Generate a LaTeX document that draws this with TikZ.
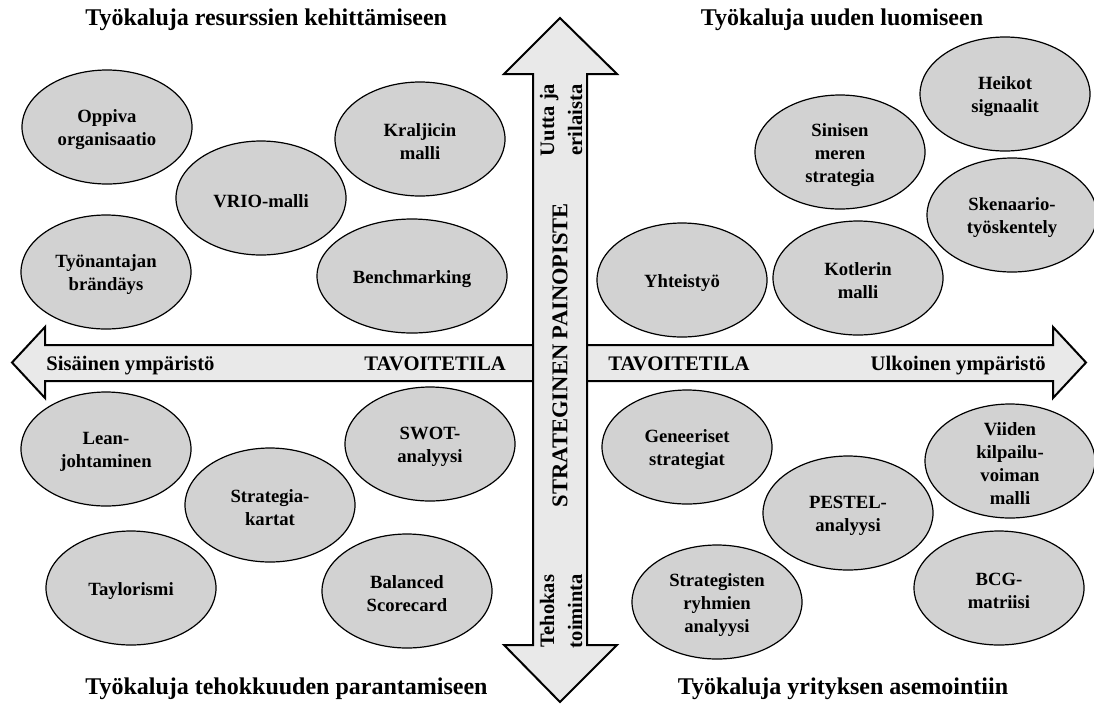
\documentclass[tikz,border=0pt]{standalone}
\usepackage{fontspec}
\setmainfont{Liberation Serif}
\usetikzlibrary{shapes.geometric}
\definecolor{blobfill}{RGB}{210,210,210}
\definecolor{arrowfill}{RGB}{233,233,233}
\begin{document}
\begin{tikzpicture}[x=0.75pt,y=-0.75pt,
  blob/.style={ellipse, draw=black, line width=0.9pt, fill=blobfill,
    minimum width=127.5pt, minimum height=85.5pt, inner sep=0pt},
  wideblob/.style={blob, minimum width=142.5pt},
  txt/.style={font=\fontsize{14}{17.2}\selectfont\bfseries, align=center, inner sep=0pt, yshift=-2.2pt},
  bigarrow/.style={draw=black, line width=1.5pt, fill=arrowfill, line join=miter},
  axistxt/.style={font=\fontsize{15.5}{18}\selectfont\bfseries, inner sep=0pt},
  sidetxt/.style={font=\fontsize{15.4}{21}\selectfont\bfseries, align=center, inner sep=0pt, rotate=90},
  maintxt/.style={font=\fontsize{16.9}{20}\selectfont\bfseries, inner sep=0pt, rotate=90},
  title/.style={font=\fontsize{18}{22}\selectfont\bfseries, inner sep=0pt}
]
\useasboundingbox (0,0) rectangle (1094,708);

% horizontal double arrow
\draw[bigarrow] (12,362.5) -- (45,327) -- (45,345) -- (1053,345) -- (1053,327)
  -- (1086,362.5) -- (1053,398) -- (1053,381) -- (45,381) -- (45,398) -- cycle;
% vertical double arrow
\draw[bigarrow] (560,18) -- (617,74) -- (587,74) -- (587,645) -- (617,645)
  -- (560,702) -- (504,645) -- (533,645) -- (533,74) -- (504,74) -- cycle;

% axis labels
\node[axistxt, anchor=base west] (sis) at (46,370) {Sisäinen ympäristö};
\node[axistxt, anchor=base east] (tavl) at (506,370) {TAVOITETILA};
\node[axistxt, anchor=base west] (tavr) at (608,370) {TAVOITETILA};
\node[axistxt, anchor=base east] (ulk) at (1046,370) {Ulkoinen ympäristö};
\node[maintxt] (sp) at (560,355) {STRATEGINEN PAINOPISTE};
\node[sidetxt] (uutta) at (561,120) {Uutta ja\\erilaista};
\node[sidetxt] (teho) at (561,611) {Tehokas\\toiminta};

% quadrant titles
\node[title, anchor=west] (t1) at (85,20) {Työkaluja resurssien kehittämiseen};
\node[title] (t2) at (842,20) {Työkaluja uuden luomiseen};
\node[title, anchor=west] (t3) at (85,689) {Työkaluja tehokkuuden parantamiseen};
\node[title] (t4) at (843,689) {Työkaluja yrityksen asemointiin};

% upper left
\node[blob, label={[txt]center:{Oppiva\\organisaatio}}] (oppiva) at (107,127) {};
\node[blob, label={[txt]center:{VRIO-malli}}] (vrio) at (261,198) {};
\node[blob, label={[txt]center:{Kraljicin\\malli}}] (kraljic) at (420,139) {};
\node[blob, label={[txt]center:{Työnantajan\\brändäys}}] (tyonant) at (106,272) {};
\node[wideblob, label={[txt]center:{Benchmarking}}] (bench) at (412,276) {};

% upper right
\node[blob, label={[txt]center:{Yhteistyö}}] (yht) at (682,280) {};
\node[blob, label={[txt]center:{Sinisen\\meren\\strategia}}] (sinisen) at (840,152) {};
\node[blob, label={[txt]center:{Heikot\\signaalit}}] (heikot) at (1005,94) {};
\node[blob, label={[txt]center:{Skenaario-\\työskentely}}] (skenaario) at (1012,215) {};
\node[blob, label={[txt]center:{Kotlerin\\malli}}] (kotler) at (858,278) {};

% lower left
\node[blob, label={[txt]center:{Lean-\\johtaminen}}] (lean) at (106,449) {};
\node[blob, label={[txt]center:{Strategia-\\kartat}}] (kartat) at (270,505) {};
\node[blob, label={[txt]center:{SWOT-\\analyysi}}] (swot) at (430,444) {};
\node[blob, label={[txt]center:{Taylorismi}}] (taylor) at (131,588) {};
\node[blob, label={[txt]center:{Balanced\\Scorecard}}] (bsc) at (407,591) {};

% lower right
\node[blob, label={[txt]center:{Geneeriset\\strategiat}}] (gen) at (687,447) {};
\node[blob, label={[txt]center:{PESTEL-\\analyysi}}] (pestel) at (848,513) {};
\node[blob, label={[txt]center:{Strategisten\\ryhmien\\analyysi}}] (ryhmat) at (717,602) {};
\node[blob, label={[txt]center:{Viiden\\kilpailu-\\voiman\\malli}}] (viiden) at (1010,461) {};
\node[blob, label={[txt]center:{BCG-\\matriisi}}] (bcg) at (999,588) {};
\end{tikzpicture}
\end{document}
